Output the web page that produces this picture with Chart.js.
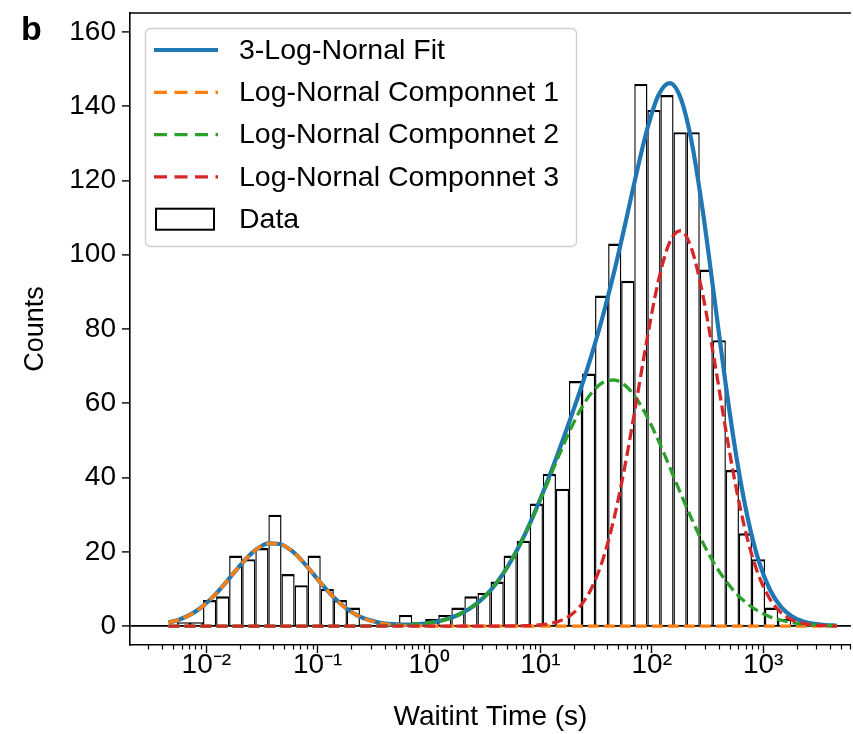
<!DOCTYPE html>
<html><head><meta charset="utf-8">
<script src="https://cdn.jsdelivr.net/npm/chart.js@4"></script>
<style>html,body{margin:0;padding:0;background:#fff}</style>
</head><body>
<canvas id="c" width="853" height="734" style="width:853px;height:734px;display:block"></canvas>
<script>
// ---------- data ----------
// histogram bin edges, log10(seconds)
const binEdgesLog = [-2.381,-2.263,-2.146,-2.029,-1.911,-1.794,-1.677,-1.559,-1.442,-1.325,-1.207,-1.090,-0.973,-0.855,-0.738,-0.621,-0.503,-0.386,-0.269,-0.151,-0.034,0.083,0.201,0.318,0.435,0.553,0.670,0.787,0.905,1.022,1.139,1.257,1.374,1.491,1.609,1.726,1.843,1.961,2.078,2.195,2.313,2.430,2.547,2.665,2.782,2.899,3.017,3.134,3.251,3.369,3.486,3.603];
const binCounts = [0,1,1,7,8,19,18,21,30,14,11,19,10,7,5,0,0,0,3,1,2,3,5,8,9,12,19,23,33,41,37,66,68,89,103,93,146,139,143,133,133,96,77,42,25,18,5,2,0,0,0];
// fit curves sampled at log10(seconds)
const fitLogT = [-2.34,-2.24,-2.14,-2.04,-1.94,-1.84,-1.74,-1.64,-1.54,-1.44,-1.34,-1.24,-1.14,-1.04,-0.94,-0.84,-0.74,-0.64,-0.54,-0.44,-0.34,-0.24,-0.14,-0.04,0.06,0.16,0.26,0.36,0.46,0.56,0.66,0.76,0.86,0.96,1.06,1.16,1.26,1.36,1.46,1.56,1.66,1.76,1.86,1.96,2.06,2.16,2.26,2.36,2.46,2.56,2.66,2.76,2.86,2.96,3.06,3.16,3.26,3.36,3.46,3.56,3.66];
const fitTotal = [0.94,1.78,3.13,5.14,7.86,11.17,14.79,18.21,20.88,22.27,22.11,20.43,17.57,14.06,10.47,7.26,4.69,2.82,1.60,0.88,0.51,0.39,0.45,0.70,1.15,1.88,2.98,4.60,6.86,9.91,13.87,18.79,24.65,31.37,38.79,46.71,55.01,63.72,73.06,83.42,95.12,108.08,121.57,133.93,142.94,146.20,142.12,130.08,111.34,88.83,65.96,45.56,29.30,17.56,9.85,5.19,2.60,1.25,0.58,0.27,0.12];
const comp1 = [0.94,1.78,3.13,5.14,7.86,11.17,14.79,18.21,20.88,22.27,22.11,20.43,17.57,14.06,10.47,7.26,4.68,2.81,1.57,0.82,0.40,0.18,0.07,0.03,0.01,0,0,0,0,0,0,0,0,0,0,0,0,0,0,0,0,0,0,0,0,0,0,0,0,0,0,0,0,0,0,0,0,0,0,0,0];
const comp2 = [0,0,0,0,0,0,0,0,0,0,0,0,0,0,0,0.003,0.007,0.014,0.029,0.058,0.113,0.211,0.382,0.671,1.14,1.88,2.98,4.60,6.86,9.91,13.86,18.76,24.57,31.16,38.26,45.47,52.32,58.27,62.83,65.58,66.27,64.82,61.38,56.26,49.93,42.89,35.66,28.71,22.38,16.88,12.33,8.72,5.97,3.95,2.53,1.57,0.95,0.55,0.31,0.17,0.09];
const comp3 = [0,0,0,0,0,0,0,0,0,0,0,0,0,0,0,0,0,0,0,0,0,0,0,0,0,0,0,0,0,0,0.01,0.03,0.08,0.21,0.53,1.24,2.69,5.45,10.23,17.84,28.85,43.26,60.19,77.67,93.01,103.31,106.46,101.37,88.96,71.95,53.63,36.84,23.33,13.61,7.32,3.62,1.65,0.70,0.27,0.10,0.03];
const seriesNames = ['3-Log-Nornal Fit','Log-Nornal Componnet 1','Log-Nornal Componnet 2','Log-Nornal Componnet 3','Data'];
const seriesColors = ['#1f77b4','#ff7f0e','#2ca02c','#d62728','#000000'];
const yTickValues = [0,20,40,60,80,100,120,140,160];
const xLimitsLog = [-2.685, 3.788];
const yLimits = [-5.1, 165.1];
const xTitle = 'Waitint Time (s)';
const yTitle = 'Counts';
const panelLabel = 'b';

// ---------- build ----------
const FONT = "'Liberation Sans', Arial, Helvetica, sans-serif";
Chart.defaults.font.family = FONT;
Chart.defaults.color = '#000';
const SUP = {'-':'\u207B','0':'\u2070','1':'\u00B9','2':'\u00B2','3':'\u00B3','4':'\u2074','5':'\u2075'};
const isPow10 = v => { if(!(v>0)) return false; const e=Math.log10(v); return Math.abs(e-Math.round(e))<1e-9; };

const barData = binCounts.map((c,i)=>({x: Math.pow(10,(binEdgesLog[i]+binEdgesLog[i+1])/2), y:c}));
const curve = arr => fitLogT.map((l,i)=>({x: Math.pow(10,l), y: arr[i]}));
const DASH = [11,5];

const extras = {
  id:'extras',
  afterDatasetsDraw(chart){
    const ctx = chart.ctx, a = chart.chartArea, xs = chart.scales.x;
    ctx.save();
    // top spine
    ctx.strokeStyle='#000'; ctx.lineWidth=1.6;
    ctx.beginPath(); ctx.moveTo(a.left-0.8,a.top); ctx.lineTo(a.right,a.top); ctx.stroke();
    // minor x ticks
    ctx.lineWidth=1.2;
    for(let e=-3;e<=3;e++){
      for(let m=2;m<=9;m++){
        const v=m*Math.pow(10,e);
        if(v<xs.min||v>xs.max) continue;
        const px=Math.round(xs.getPixelForValue(v))+0.5;
        ctx.beginPath(); ctx.moveTo(px,a.bottom); ctx.lineTo(px,a.bottom+4.5); ctx.stroke();
      }
    }
    // legend
    const lx=145.5, ly=28.5, lw=431, lh=218;
    ctx.beginPath(); ctx.roundRect(lx,ly,lw,lh,5);
    ctx.fillStyle='rgba(255,255,255,0.85)'; ctx.fill();
    ctx.strokeStyle='#d0d0d0'; ctx.lineWidth=1.4; ctx.stroke();
    ctx.font="28.5px "+FONT; ctx.textBaseline='middle'; ctx.textAlign='left';
    seriesNames.forEach((name,i)=>{
      const y = 50 + 42.3*i;
      if(i<4){
        ctx.beginPath(); ctx.moveTo(154,y); ctx.lineTo(218,y);
        ctx.strokeStyle=seriesColors[i];
        ctx.lineWidth = i===0?4.2:3.3;
        ctx.setLineDash(i===0?[]:[13,7.5]);
        ctx.stroke(); ctx.setLineDash([]);
      } else {
        ctx.fillStyle='#fff'; ctx.fillRect(156,y-10.5,58,21);
        ctx.strokeStyle='#000'; ctx.lineWidth=2; ctx.strokeRect(156,y-10.5,58,21);
      }
      ctx.fillStyle='#000'; ctx.fillText(name,239,y+1);
    });
    // panel label
    ctx.font="bold 34px "+FONT; ctx.textBaseline='alphabetic'; ctx.fillStyle='#000';
    ctx.fillText(panelLabel,21,40);
    ctx.restore();
  }
};

const chart = new Chart(document.getElementById('c'), {
  type:'bar',
  data:{ datasets:[
    {type:'line', label:seriesNames[0], data:curve(fitTotal), borderColor:seriesColors[0], borderWidth:4.2, pointRadius:0, cubicInterpolationMode:'monotone', order:4},
    {type:'line', label:seriesNames[1], data:curve(comp1), borderColor:seriesColors[1], borderWidth:3.3, borderDash:DASH, pointRadius:0, cubicInterpolationMode:'monotone', order:3},
    {type:'line', label:seriesNames[2], data:curve(comp2), borderColor:seriesColors[2], borderWidth:3.3, borderDash:DASH, pointRadius:0, cubicInterpolationMode:'monotone', order:2},
    {type:'line', label:seriesNames[3], data:curve(comp3), borderColor:seriesColors[3], borderWidth:3.3, borderDash:DASH, pointRadius:0, cubicInterpolationMode:'monotone', order:1},
    {type:'bar', label:seriesNames[4], data:barData, backgroundColor:'#ffffff', borderColor:'#000', borderWidth:{top:2.4,left:1.45,right:1.45,bottom:0}, borderSkipped:false, inflateAmount:0, barThickness:10, grouped:false, order:5}
  ]},
  options:{
    responsive:false, animation:false, devicePixelRatio:1,
    layout:{padding:{top:13,left:0,right:0,bottom:0}},
    plugins:{legend:{display:false}, tooltip:{enabled:false}},
    scales:{
      x:{type:'logarithmic', min:Math.pow(10,xLimitsLog[0]), max:Math.pow(10,xLimitsLog[1]), offset:false,
        grid:{display:true, drawOnChartArea:false, drawTicks:true, offset:false, tickLength:8, tickWidth:1.4,
          tickColor: c => (c.tick && isPow10(c.tick.value)) ? '#000' : 'rgba(0,0,0,0)'},
        border:{display:true,color:'#000',width:1.6},
        ticks:{autoSkip:false, maxRotation:0, minRotation:0, padding:-5, font:{size:28},
          callback:(v)=>{ if(!isPow10(v)) return ''; const e=Math.round(Math.log10(v)); return '10'+String(e).split('').map(ch=>SUP[ch]).join(''); }},
        title:{display:true, text:xTitle, font:{size:28}, padding:{top:0,bottom:0}},
        afterFit:s=>{ s.height=89; s.paddingLeft=0; s.paddingRight=0; }
      },
      y:{type:'linear', min:yLimits[0], max:yLimits[1],
        afterBuildTicks:s=>{ s.ticks = yTickValues.map(v=>({value:v})); },
        grid:{display:true, drawOnChartArea:true, drawTicks:true, tickLength:8, tickWidth:1.4, tickColor:'#000',
          color: c => (c.tick && c.tick.value===0) ? '#000' : 'rgba(0,0,0,0)', lineWidth:1.8},
        border:{display:true,color:'#000',width:1.6},
        ticks:{padding:6, font:{size:28}},
        title:{display:true, text:yTitle, font:{size:27}, padding:{top:19,bottom:0}},
        afterFit:s=>{ s.width=130; s.paddingTop=0; s.paddingBottom=0; }
      }
    }
  },
  plugins:[extras]
});
// bar width = one log-bin in pixels on the laid-out x scale
const xs = chart.scales.x;
chart.data.datasets[4].barThickness = Math.abs(xs.getPixelForValue(Math.pow(10,binEdgesLog[1])) - xs.getPixelForValue(Math.pow(10,binEdgesLog[0])));
chart.update();
</script>
</body></html>
